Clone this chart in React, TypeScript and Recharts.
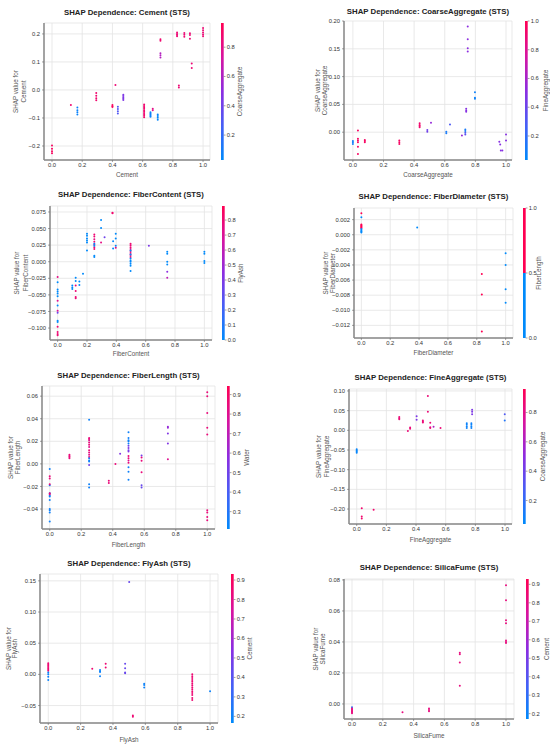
import React from 'react'
import { ScatterChart, Scatter, XAxis, YAxis, CartesianGrid } from 'recharts'

// [feature value, SHAP value, interaction feature value]
type Pt = [number, number, number]

const cementPts: Pt[] = [
  [0, -0.198, 0.93], [0, -0.21, 0.93], [0, -0.219, 0.93], [0, -0.226, 0.93],
  [0.125, -0.054, 0.88],
  [0.168, -0.063, 0.07], [0.168, -0.072, 0.07], [0.168, -0.08, 0.07], [0.168, -0.088, 0.07],
  [0.293, -0.011, 0.88], [0.293, -0.021, 0.88], [0.293, -0.03, 0.88], [0.293, -0.037, 0.88],
  [0.4, -0.054, 0.93], [0.4, -0.058, 0.93], [0.4, -0.061, 0.93],
  [0.42, 0.018, 0.86],
  [0.436, -0.06, 0.3], [0.436, -0.068, 0.3], [0.436, -0.076, 0.3], [0.436, -0.084, 0.3],
  [0.472, -0.017, 0.45], [0.472, -0.022, 0.45], [0.472, -0.027, 0.45], [0.472, -0.031, 0.45], [0.472, -0.036, 0.45],
  [0.61, -0.052, 0.88], [0.61, -0.057, 0.88], [0.61, -0.062, 0.88], [0.61, -0.067, 0.88], [0.61, -0.072, 0.88],
  [0.61, -0.077, 0.88], [0.61, -0.082, 0.88], [0.61, -0.087, 0.88], [0.61, -0.092, 0.88], [0.61, -0.097, 0.88],
  [0.652, -0.08, 0.08], [0.652, -0.084, 0.08], [0.652, -0.088, 0.1], [0.652, -0.092, 0.08], [0.652, -0.096, 0.08],
  [0.667, -0.067, 0.8], [0.667, -0.072, 0.8],
  [0.7, -0.088, 0.05], [0.7, -0.093, 0.05], [0.7, -0.099, 0.05], [0.7, -0.106, 0.05],
  [0.718, 0.181, 0.88], [0.718, 0.176, 0.88], [0.718, 0.131, 0.62], [0.718, 0.124, 0.62], [0.718, 0.116, 0.62],
  [0.828, 0.205, 0.86], [0.828, 0.2, 0.86], [0.828, 0.196, 0.86], [0.828, 0.192, 0.86],
  [0.84, 0.016, 0.86], [0.84, 0.009, 0.86],
  [0.876, 0.203, 0.86], [0.876, 0.197, 0.86], [0.876, 0.19, 0.86],
  [0.913, 0.202, 0.86], [0.913, 0.196, 0.86], [0.913, 0.183, 0.86],
  [0.925, 0.094, 0.86], [0.925, 0.078, 0.86],
  [1.0, 0.221, 0.86], [1.0, 0.213, 0.86], [1.0, 0.205, 0.86], [1.0, 0.198, 0.86], [1.0, 0.192, 0.86],
]

const coarsePts: Pt[] = [
  [0, -0.016, 0.1], [0, -0.018, 0.1], [0, -0.021, 0.1],
  [0.033, 0.003, 0.95], [0.033, -0.012, 0.95], [0.033, -0.015, 0.95], [0.033, -0.018, 0.95], [0.033, -0.026, 0.95], [0.033, -0.039, 0.95],
  [0.078, -0.014, 0.95], [0.078, -0.016, 0.95], [0.078, -0.018, 0.95],
  [0.303, -0.015, 0.95], [0.303, -0.018, 0.95], [0.303, -0.021, 0.95],
  [0.436, 0.016, 0.92], [0.436, 0.013, 0.92], [0.436, 0.011, 0.92], [0.436, 0.009, 0.92],
  [0.486, 0.004, 0.42], [0.486, 0.001, 0.42],
  [0.51, 0.017, 0.55],
  [0.61, 0.001, 0.12], [0.61, -0.002, 0.12],
  [0.634, 0.014, 0.3],
  [0.712, -0.006, 0.55],
  [0.734, 0.005, 0.12], [0.734, 0.002, 0.12], [0.734, -0.001, 0.3], [0.734, -0.004, 0.35],
  [0.74, 0.042, 0.5], [0.74, 0.039, 0.5], [0.74, 0.037, 0.5],
  [0.75, 0.19, 0.52], [0.75, 0.167, 0.52], [0.75, 0.151, 0.52], [0.75, 0.145, 0.52],
  [0.797, 0.072, 0.08], [0.797, 0.062, 0.08], [0.797, 0.06, 0.08],
  [0.956, -0.017, 0.5], [0.962, -0.022, 0.5], [0.966, -0.033, 0.5], [0.976, -0.033, 0.5],
  [1.0, -0.004, 0.5], [1.0, -0.015, 0.5],
]

const fiberContentPts: Pt[] = [
  [0, -0.023, 0.75], [0, -0.031, 0], [0, -0.042, 0], [0, -0.045, 0], [0, -0.048, 0], [0, -0.052, 0],
  [0, -0.059, 0.72], [0, -0.066, 0], [0, -0.074, 0.7], [0, -0.077, 0.35], [0, -0.089, 0], [0, -0.091, 0],
  [0, -0.098, 0.8], [0, -0.106, 0.8], [0, -0.109, 0.8], [0, -0.111, 0.8],
  [0.1, -0.036, 0], [0.1, -0.039, 0], [0.1, -0.041, 0],
  [0.123, -0.024, 0], [0.123, -0.029, 0], [0.123, -0.036, 0.8], [0.123, -0.044, 0.8], [0.123, -0.053, 0.8], [0.123, -0.055, 0.8],
  [0.148, -0.03, 0], [0.148, -0.035, 0],
  [0.173, -0.018, 0],
  [0.2, 0.042, 0], [0.2, 0.039, 0], [0.2, 0.035, 0], [0.2, 0.032, 0], [0.2, 0.029, 0], [0.2, 0.017, 0],
  [0.25, 0.041, 0.8], [0.25, 0.038, 0.8], [0.25, 0.034, 0.75], [0.25, 0.03, 0.8], [0.25, 0.026, 0.7],
  [0.25, 0.022, 0.8], [0.25, 0.019, 0.8], [0.25, 0.027, 0], [0.25, 0.024, 0], [0.25, 0.009, 0], [0.25, 0.007, 0],
  [0.296, 0.063, 0], [0.296, 0.051, 0], [0.296, 0.029, 0.75],
  [0.32, 0.037, 0.35],
  [0.374, 0.074, 0.82], [0.374, 0.073, 0.82],
  [0.378, 0.031, 0], [0.378, 0.02, 0],
  [0.396, 0.042, 0], [0.396, 0.035, 0], [0.396, 0.024, 0], [0.396, 0.021, 0.75],
  [0.497, 0.027, 0.8], [0.497, 0.025, 0.8], [0.497, 0.022, 0.8], [0.497, 0.019, 0.75], [0.497, 0.016, 0.8],
  [0.497, 0.013, 0.8], [0.497, 0.01, 0.75], [0.497, 0.007, 0.8],
  [0.497, 0.017, 0], [0.497, 0.011, 0], [0.497, 0.005, 0], [0.497, 0.002, 0], [0.497, 0, 0],
  [0.497, -0.003, 0], [0.497, -0.006, 0], [0.497, -0.014, 0],
  [0.622, 0.024, 0.4],
  [0.747, 0.015, 0], [0.747, 0.012, 0], [0.747, 0, 0], [0.747, -0.004, 0], [0.747, -0.015, 0.45], [0.747, -0.024, 0.6],
  [1.0, 0.015, 0], [1.0, 0.012, 0], [1.0, 0.001, 0], [1.0, -0.002, 0],
]

const fiberDiameterPts: Pt[] = [
  [0, 0.00285, 1], [0, 0.00233, 0], [0, 0.00136, 1], [0, 0.00125, 1], [0, 0.00115, 1], [0, 0.00105, 1],
  [0, 0.00095, 1], [0, 0.00085, 1], [0, 0.00075, 0], [0, 0.00062, 0], [0, 0.0005, 0], [0, 0.0004, 0], [0, 0.0003, 0],
  [0.387, 0.00096, 0],
  [0.835, -0.0052, 1], [0.835, -0.0079, 1], [0.835, -0.0128, 1],
  [1.0, -0.00245, 0], [1.0, -0.004, 0], [1.0, -0.0072, 0], [1.0, -0.009, 0],
]

const fiberLengthPts: Pt[] = [
  [0, -0.0045, 0.25], [0, -0.011, 0.85], [0, -0.013, 0.85], [0, -0.019, 0.25], [0, -0.018, 0.85],
  [0, -0.026, 0.25], [0, -0.028, 0.25], [0, -0.029, 0.25], [0, -0.026, 0.85], [0, -0.027, 0.85],
  [0, -0.032, 0.25], [0, -0.04, 0.25], [0, -0.041, 0.25], [0, -0.043, 0.25], [0, -0.051, 0.25],
  [0.125, 0.008, 0.85], [0.125, 0.007, 0.85], [0.125, 0.006, 0.85], [0.125, 0.005, 0.85],
  [0.25, 0.039, 0.25], [0.25, 0.023, 0.85], [0.25, 0.022, 0.85], [0.25, 0.021, 0.8], [0.25, 0.019, 0.85],
  [0.25, 0.017, 0.85], [0.25, 0.015, 0.8], [0.25, 0.012, 0.85], [0.25, 0.01, 0.85], [0.25, 0.008, 0.8],
  [0.25, 0.006, 0.85], [0.25, 0.005, 0.25], [0.25, 0.003, 0.25], [0.25, 0.002, 0.25], [0.25, -0.001, 0.5],
  [0.25, -0.018, 0.25], [0.25, -0.021, 0.25],
  [0.375, -0.015, 0.85], [0.375, -0.017, 0.85],
  [0.417, 0, 0.85],
  [0.447, 0.009, 0.55],
  [0.5, 0.028, 0.25], [0.5, 0.023, 0.25], [0.5, 0.021, 0.25], [0.5, 0.02, 0.25], [0.5, 0.018, 0.25],
  [0.5, 0.016, 0.5], [0.5, 0.014, 0.55], [0.5, 0.012, 0.5], [0.5, 0.011, 0.55],
  [0.5, 0.007, 0.85], [0.5, 0.005, 0.85], [0.5, 0.003, 0.8], [0.5, 0.001, 0.85],
  [0.5, -0.003, 0.25], [0.5, -0.007, 0.25], [0.5, -0.014, 0.25],
  [0.583, 0.0075, 0.5], [0.583, 0.0056, 0.85], [0.583, 0.0027, 0.85], [0.583, -0.0075, 0.85],
  [0.583, -0.019, 0.48], [0.583, -0.021, 0.48],
  [0.75, 0.033, 0.6], [0.75, 0.032, 0.6], [0.75, 0.027, 0.55], [0.75, 0.018, 0.55], [0.75, 0.004, 0.8],
  [1.0, 0.0635, 0.85], [1.0, 0.06, 0.85], [1.0, 0.045, 0.85], [1.0, 0.032, 0.85], [1.0, 0.026, 0.85],
  [1.0, -0.041, 0.85], [1.0, -0.043, 0.85], [1.0, -0.047, 0.85], [1.0, -0.05, 0.85],
]

const fineAggPts: Pt[] = [
  [0, -0.048, 0.06], [0, -0.051, 0.06], [0, -0.054, 0.06], [0, -0.057, 0.06],
  [0.034, -0.198, 0.88], [0.034, -0.219, 0.88], [0.034, -0.224, 0.88],
  [0.114, -0.202, 0.88],
  [0.287, 0.034, 0.85], [0.287, 0.031, 0.85], [0.287, 0.028, 0.85],
  [0.345, -0.002, 0.85],
  [0.36, 0.007, 0.85], [0.36, 0.004, 0.85],
  [0.404, 0.036, 0.45], [0.404, 0.027, 0.45],
  [0.446, 0.025, 0.85], [0.446, 0.022, 0.85], [0.446, 0.02, 0.85],
  [0.48, 0.087, 0.85], [0.48, 0.047, 0.85],
  [0.496, 0.019, 0.85], [0.496, 0.008, 0.85], [0.496, 0.006, 0.85],
  [0.518, 0.009, 0.6],
  [0.565, 0.006, 0.85],
  [0.742, 0.018, 0.08], [0.742, 0.014, 0.08], [0.742, 0.01, 0.08], [0.742, 0.006, 0.08],
  [0.773, 0.018, 0.08], [0.773, 0.014, 0.08], [0.773, 0.01, 0.08], [0.773, 0.006, 0.08],
  [0.778, 0.052, 0.45], [0.778, 0.047, 0.45], [0.778, 0.041, 0.45],
  [0.998, 0.041, 0.3], [0.998, 0.025, 0.15],
]

const flyAshPts: Pt[] = [
  [0, 0.018, 0.85], [0, 0.016, 0.85], [0, 0.014, 0.85], [0, 0.012, 0.85], [0, 0.01, 0.85], [0, 0.008, 0.85], [0, 0.006, 0.85],
  [0, 0.003, 0.2], [0, 0, 0.2], [0, -0.004, 0.2], [0, -0.009, 0.2],
  [0.272, 0.009, 0.85],
  [0.32, 0.007, 0.2], [0.32, 0.005, 0.2], [0.32, 0.004, 0.2], [0.32, -0.003, 0.2],
  [0.355, 0.017, 0.85], [0.355, 0.011, 0.85],
  [0.475, 0.017, 0.45], [0.475, 0.01, 0.45], [0.475, 0.003, 0.45], [0.475, 0.002, 0.45],
  [0.5, 0.148, 0.45],
  [0.523, -0.066, 0.85], [0.523, -0.068, 0.85],
  [0.593, -0.015, 0.2], [0.593, -0.017, 0.2], [0.593, -0.021, 0.2],
  [0.89, 0, 0.85], [0.89, -0.003, 0.85], [0.89, -0.006, 0.85], [0.89, -0.009, 0.85], [0.89, -0.012, 0.85],
  [0.89, -0.015, 0.85], [0.89, -0.018, 0.85], [0.89, -0.021, 0.85], [0.89, -0.024, 0.85], [0.89, -0.027, 0.85],
  [0.89, -0.03, 0.85], [0.89, -0.033, 0.85], [0.89, -0.038, 0.85], [0.89, -0.041, 0.85],
  [1.0, -0.027, 0.2],
]

const silicaPts: Pt[] = [
  [0, -0.0022, 0.3], [0, -0.003, 0.82], [0, -0.0036, 0.82], [0, -0.0042, 0.82], [0, -0.0048, 0.82], [0, -0.0054, 0.82], [0, -0.006, 0.82],
  [0.328, -0.0054, 0.82],
  [0.5, -0.003, 0.82], [0.5, -0.0039, 0.82], [0.5, -0.0047, 0.82],
  [0.7, 0.033, 0.82], [0.7, 0.032, 0.82], [0.7, 0.0267, 0.82], [0.7, 0.0118, 0.82],
  [1.0, 0.0766, 0.82], [1.0, 0.0669, 0.82], [1.0, 0.054, 0.82], [1.0, 0.052, 0.82],
  [1.0, 0.0409, 0.82], [1.0, 0.04, 0.82], [1.0, 0.0393, 0.82],
]

const xTicks = [0, 0.2, 0.4, 0.6, 0.8, 1.0]
const cementYTicks = [-0.2, -0.1, 0, 0.1, 0.2]
const coarseYTicks = [0, 0.05, 0.1, 0.15, 0.2]
const fiberContentYTicks = [-0.1, -0.075, -0.05, -0.025, 0, 0.025, 0.05, 0.075]
const fiberDiameterYTicks = [-0.012, -0.01, -0.008, -0.006, -0.004, -0.002, 0, 0.002]
const fiberLengthYTicks = [-0.04, -0.02, 0, 0.02, 0.04, 0.06]
const fineAggYTicks = [-0.2, -0.15, -0.1, -0.05, 0, 0.05, 0.1]
const flyAshYTicks = [-0.05, 0, 0.05, 0.1, 0.15]
const silicaYTicks = [0, 0.02, 0.04, 0.06, 0.08]

const cbarTicks2 = [0.2, 0.4, 0.6, 0.8]
const cbarTicks2to1 = [0.2, 0.4, 0.6, 0.8, 1.0]
const cbarTicks0to8 = [0, 0.1, 0.2, 0.3, 0.4, 0.5, 0.6, 0.7, 0.8]
const cbarTicksHalf = [0, 0.5, 1.0]
const cbarTicks3to9 = [0.3, 0.4, 0.5, 0.6, 0.7, 0.8, 0.9]
const cbarTicks2to9 = [0.2, 0.3, 0.4, 0.5, 0.6, 0.7, 0.8, 0.9]

// SHAP red_blue colormap approximation
const CMAP: [number, number, number, number][] = [
  [0, 0, 138, 251],
  [0.25, 70, 95, 246],
  [0.5, 140, 45, 225],
  [0.75, 215, 20, 160],
  [1, 255, 0, 82],
]
const BLUE = 'rgb(0,138,251)'
const RED = 'rgb(255,0,82)'

function cmap(t: number) {
  const v = Math.max(0, Math.min(1, t))
  for (let i = 1; i < CMAP.length; i++) {
    const [t1, r1, g1, b1] = CMAP[i]
    const [t0, r0, g0, b0] = CMAP[i - 1]
    if (v <= t1) {
      const f = (v - t0) / (t1 - t0)
      return `rgb(${Math.round(r0 + (r1 - r0) * f)},${Math.round(g0 + (g1 - g0) * f)},${Math.round(b0 + (b1 - b0) * f)})`
    }
  }
  return RED
}

const FONT = '"Liberation Sans", Arial, sans-serif'
const AX_L = 32
const AX_B = 14
const PAD = 6

interface PanelCfg {
  feature: string
  inter: string
  pts: Pt[]
  yTicks: number[]
  yDec: number
  xDomain: [number, number]
  yDomain: [number, number]
  cDomain: [number, number]
  cTicks: number[]
  binary?: boolean
  box: { x0: number; x1: number; y0: number; y1: number }
  titleY: number
  xLabelY: number
  yLabelX: [number, number]
  cbarX: number
  cLabelX: number
}

const panels: PanelCfg[] = [
  {
    feature: 'Cement', inter: 'CoarseAggregate', pts: cementPts, yTicks: cementYTicks, yDec: 1,
    xDomain: [-0.053, 1.046], yDomain: [-0.25, 0.239], cDomain: [0.03, 0.965], cTicks: cbarTicks2,
    box: { x0: 44, x1: 210, y0: 23, y1: 160 }, titleY: 12, xLabelY: 174, yLabelX: [15, 23], cbarX: 221, cLabelX: 239,
  },
  {
    feature: 'CoarseAggregate', inter: 'FineAggregate', pts: coarsePts, yTicks: coarseYTicks, yDec: 2,
    xDomain: [-0.058, 1.039], yDomain: [-0.05, 0.2], cDomain: [0.033, 1.0], cTicks: cbarTicks2to1,
    box: { x0: 344, x1: 512, y0: 21, y1: 160 }, titleY: 11, xLabelY: 174, yLabelX: [317, 324], cbarX: 525, cLabelX: 545,
  },
  {
    feature: 'FiberContent', inter: 'FlyAsh', pts: fiberContentPts, yTicks: fiberContentYTicks, yDec: 3,
    xDomain: [-0.052, 1.052], yDomain: [-0.118, 0.084], cDomain: [0, 0.894], cTicks: cbarTicks0to8,
    box: { x0: 50, x1: 212, y0: 206, y1: 340 }, titleY: 194, xLabelY: 353, yLabelX: [16, 25], cbarX: 222, cLabelX: 240,
  },
  {
    feature: 'FiberDiameter', inter: 'FiberLength', pts: fiberDiameterPts, yTicks: fiberDiameterYTicks, yDec: 3,
    xDomain: [-0.051, 1.051], yDomain: [-0.01367, 0.00354], cDomain: [0, 1], cTicks: cbarTicksHalf, binary: true,
    box: { x0: 354, x1: 513, y0: 208, y1: 338 }, titleY: 196, xLabelY: 352, yLabelX: [325, 332], cbarX: 523, cLabelX: 538,
  },
  {
    feature: 'FiberLength', inter: 'Water', pts: fiberLengthPts, yTicks: fiberLengthYTicks, yDec: 2,
    xDomain: [-0.049, 1.049], yDomain: [-0.0577, 0.069], cDomain: [0.211, 0.944], cTicks: cbarTicks3to9,
    box: { x0: 42, x1: 215, y0: 386, y1: 529 }, titleY: 375, xLabelY: 544, yLabelX: [10, 17], cbarX: 227, cLabelX: 246,
  },
  {
    feature: 'FineAggregate', inter: 'CoarseAggregate', pts: fineAggPts, yTicks: fineAggYTicks, yDec: 2,
    xDomain: [-0.052, 1.047], yDomain: [-0.238, 0.105], cDomain: [0.04, 0.96], cTicks: cbarTicks2,
    box: { x0: 349, x1: 512, y0: 389, y1: 524 }, titleY: 377, xLabelY: 539, yLabelX: [318, 326], cbarX: 523, cLabelX: 542,
  },
  {
    feature: 'FlyAsh', inter: 'Cement', pts: flyAshPts, yTicks: flyAshYTicks, yDec: 2,
    xDomain: [-0.051, 1.049], yDomain: [-0.078, 0.161], cDomain: [0.166, 0.931], cTicks: cbarTicks2to9,
    box: { x0: 40, x1: 218, y0: 574, y1: 723 }, titleY: 563, xLabelY: 739, yLabelX: [8, 14], cbarX: 231, cLabelX: 249,
  },
  {
    feature: 'SilicaFume', inter: 'Cement', pts: silicaPts, yTicks: silicaYTicks, yDec: 2,
    xDomain: [-0.052, 1.052], yDomain: [-0.0097, 0.0806], cDomain: [0.171, 0.929], cTicks: cbarTicks2to9,
    box: { x0: 344, x1: 514, y0: 579, y1: 719 }, titleY: 567, xLabelY: 735, yLabelX: [315, 322], cbarX: 526, cLabelX: 546,
  },
]

const fmt = (v: number, d: number) => {
  const s = Math.abs(v) < 1e-12 ? (0).toFixed(d) : v.toFixed(d)
  return s.replace('-', '\u2212')
}

function Panel({ cfg }: { cfg: PanelCfg }) {
  const { box } = cfg
  const w = box.x1 - box.x0 + AX_L + PAD
  const h = box.y1 - box.y0 + AX_B + PAD
  const [c0, c1] = cfg.cDomain
  const data = cfg.pts.map(([x, y, c]) => ({
    x, y,
    fill: cfg.binary ? (c >= 0.5 ? RED : BLUE) : cmap((c - c0) / (c1 - c0)),
  }))
  return (
    <div style={{ position: 'absolute', left: box.x0 - AX_L, top: box.y0 - PAD }}>
      <ScatterChart width={w} height={h} margin={{ top: PAD, right: PAD, bottom: 0, left: 0 }}>
        <CartesianGrid stroke="#e3e3e3" strokeWidth={0.8} />
        <XAxis
          type="number" dataKey="x" domain={cfg.xDomain} ticks={xTicks} interval={0} allowDataOverflow
          height={AX_B} tickSize={2} tickMargin={1}
          tick={{ fontSize: 5.8, fill: '#333', fontFamily: FONT }}
          tickLine={{ stroke: '#666', strokeWidth: 0.6 }}
          axisLine={{ stroke: '#888', strokeWidth: 1.5 }}
          tickFormatter={(v: number) => fmt(v, 1)}
        />
        <YAxis
          type="number" dataKey="y" domain={cfg.yDomain} ticks={cfg.yTicks} interval={0} allowDataOverflow
          width={AX_L} tickSize={2} tickMargin={2}
          tick={{ fontSize: 5.8, fill: '#333', fontFamily: FONT }}
          tickLine={{ stroke: '#666', strokeWidth: 0.6 }}
          axisLine={{ stroke: '#888', strokeWidth: 1.5 }}
          tickFormatter={(v: number) => fmt(v, cfg.yDec)}
        />
        <Scatter
          data={data}
          isAnimationActive={false}
          shape={(p: any) => <circle cx={p.cx} cy={p.cy} r={1} fill={p.payload.fill} />}
        />
      </ScatterChart>
    </div>
  )
}

function Decor({ cfg, idx }: { cfg: PanelCfg; idx: number }) {
  const { box } = cfg
  const cx = (box.x0 + box.x1) / 2
  const cy = (box.y0 + box.y1) / 2
  const [c0, c1] = cfg.cDomain
  const barW = 2.7
  const cy0 = box.y0
  const cy1 = box.y1
  const toY = (v: number) => cy1 - ((v - c0) / (c1 - c0)) * (cy1 - cy0)
  const gid = `cbar${idx}`
  const stops = CMAP.map(([t]) => t)
  return (
    <g>
      <text x={cx} y={cfg.titleY} textAnchor="middle" dominantBaseline="central"
        fontSize={7.8} fontWeight="bold" fill="#222" fontFamily={FONT}>
        {`SHAP Dependence: ${cfg.feature} (STS)`}
      </text>
      <text x={cx} y={cfg.xLabelY} textAnchor="middle" dominantBaseline="central"
        fontSize={6.3} fill="#555" fontFamily={FONT}>{cfg.feature}</text>
      <text x={cfg.yLabelX[0]} y={cy} textAnchor="middle" dominantBaseline="central"
        fontSize={6.3} fill="#555" fontFamily={FONT} transform={`rotate(-90 ${cfg.yLabelX[0]} ${cy})`}>
        SHAP value for
      </text>
      <text x={cfg.yLabelX[1]} y={cy} textAnchor="middle" dominantBaseline="central"
        fontSize={6.3} fill="#555" fontFamily={FONT} transform={`rotate(-90 ${cfg.yLabelX[1]} ${cy})`}>
        {cfg.feature}
      </text>
      <defs>
        <linearGradient id={gid} x1="0" y1="1" x2="0" y2="0">
          {stops.map((t) => <stop key={t} offset={t} stopColor={cmap(t)} />)}
        </linearGradient>
      </defs>
      {cfg.binary ? (
        <>
          <rect x={cfg.cbarX} y={cy0} width={barW} height={toY(0.5) - cy0} fill={RED} />
          <rect x={cfg.cbarX} y={toY(0.5)} width={barW} height={cy1 - toY(0.5)} fill={BLUE} />
        </>
      ) : (
        <rect x={cfg.cbarX} y={cy0} width={barW} height={cy1 - cy0} fill={`url(#${gid})`} />
      )}
      {cfg.cTicks.map((t) => (
        <g key={t}>
          <line x1={cfg.cbarX + barW} x2={cfg.cbarX + barW + 1.8} y1={toY(t)} y2={toY(t)} stroke="#666" strokeWidth={0.6} />
          <text x={cfg.cbarX + barW + 3} y={toY(t)} dominantBaseline="central"
            fontSize={5.8} fill="#333" fontFamily={FONT}>{t.toFixed(1)}</text>
        </g>
      ))}
      <text x={cfg.cLabelX} y={cy} textAnchor="middle" dominantBaseline="central"
        fontSize={6.3} fill="#555" fontFamily={FONT} transform={`rotate(-90 ${cfg.cLabelX} ${cy})`}>
        {cfg.inter}
      </text>
    </g>
  )
}

export default function App() {
  return (
    <div style={{ position: 'absolute', left: 0, top: 0, width: 550, height: 746, background: '#fff', overflow: 'hidden' }}>
      {panels.map((p) => <Panel key={p.feature} cfg={p} />)}
      <svg width={550} height={746} style={{ position: 'absolute', left: 0, top: 0, pointerEvents: 'none' }}>
        {panels.map((p, i) => <Decor key={p.feature} cfg={p} idx={i} />)}
      </svg>
    </div>
  )
}
